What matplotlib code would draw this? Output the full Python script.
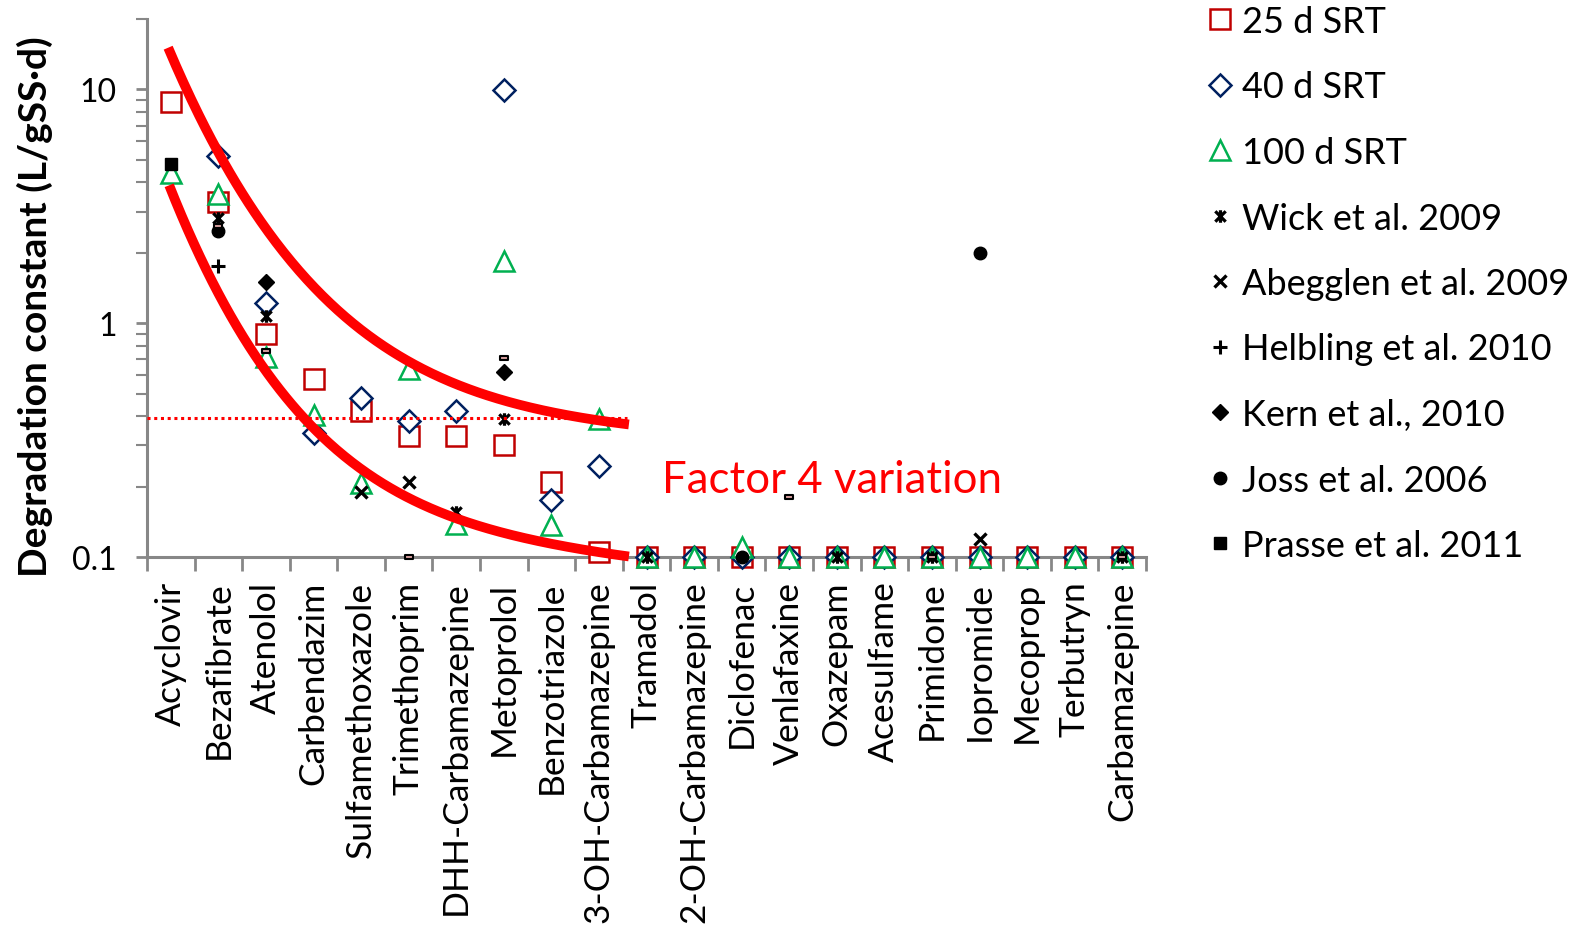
import numpy as np
import matplotlib
matplotlib.use("Agg")
import matplotlib.pyplot as plt
from matplotlib.path import Path

plt.rcParams['font.family'] = ['Lato', 'DejaVu Sans']

nan = np.nan

categories = ["Acyclovir", "Bezafibrate", "Atenolol", "Carbendazim", "Sulfamethoxazole",
              "Trimethoprim", "DHH-Carbamazepine", "Metoprolol", "Benzotriazole",
              "3-OH-Carbamazepine", "Tramadol", "2-OH-Carbamazepine", "Diclofenac",
              "Venlafaxine", "Oxazepam", "Acesulfame", "Primidone", "Iopromide",
              "Mecoprop", "Terbutryn", "Carbamazepine"]

srt25 = [8.8, 3.3, 0.90, 0.58, 0.42, 0.33, 0.33, 0.30, 0.21, 0.105,
         0.1, 0.1, 0.1, 0.1, 0.1, 0.1, 0.1, 0.1, 0.1, 0.1, 0.1]
srt40 = [nan, 5.2, 1.22, 0.34, 0.48, 0.38, 0.42, 9.9, 0.175, 0.245,
         0.1, 0.1, 0.1, 0.1, 0.1, 0.1, 0.1, 0.1, 0.1, 0.1, 0.1]
srt100 = [4.4, 3.56, 0.72, 0.405, 0.207, 0.64, 0.138, 1.84, 0.137, 0.39,
          0.1, 0.1, 0.11, 0.1, 0.1, 0.1, 0.1, 0.1, 0.1, 0.1, 0.1]
wick2009 = [nan, 2.81, 1.07, nan, nan, nan, 0.156, 0.39, nan, nan,
            0.1, nan, nan, nan, 0.1, nan, 0.1, nan, nan, nan, 0.1]
abegglen2009 = [nan, nan, nan, nan, 0.19, 0.21, nan, nan, nan, nan,
                nan, nan, nan, nan, nan, nan, nan, 0.119, nan, nan, nan]
helbling2010 = [nan, 1.75, nan, nan, nan, nan, nan, nan, nan, nan,
                nan, nan, nan, nan, nan, nan, nan, nan, nan, nan, nan]
kern2010 = [nan, nan, 1.50, nan, nan, nan, nan, 0.62, nan, nan,
            nan, nan, nan, nan, nan, nan, nan, nan, nan, nan, nan]
joss2006 = [nan, 2.49, nan, nan, nan, nan, nan, nan, nan, nan,
            nan, nan, 0.1, nan, nan, nan, nan, 2.0, nan, nan, nan]
prasse2011 = [4.8, nan, nan, nan, nan, nan, nan, nan, nan, nan,
              nan, nan, nan, nan, nan, nan, nan, nan, nan, nan, nan]
other_dash = [nan, 2.6, 0.76, nan, nan, 0.1, nan, 0.71, nan, nan,
              nan, nan, nan, 0.18, nan, nan, 0.1, nan, nan, nan, 0.1]

legend_labels = ["25 d SRT", "40 d SRT", "100 d SRT", "Wick et al. 2009",
                 "Abegglen et al. 2009", "Helbling et al. 2010", "Kern et al., 2010",
                 "Joss et al. 2006", "Prasse et al. 2011"]

# hand-drawn envelope curves (anchor points, category position / value)
upper_x = [-0.055, 1.0, 2.02, 3.02, 4.03, 5.05, 6.05, 7.06, 8.06, 9.63]
upper_y = [15.6, 4.88, 2.60, 1.54, 0.90, 0.655, 0.532, 0.473, 0.421, 0.366]
lower_x = [-0.034, 0.877, 2.06, 2.74, 3.06, 4.86, 6.05, 7.06, 8.06, 9.63]
lower_y = [4.12, 1.27, 0.716, 0.393, 0.342, 0.177, 0.145, 0.128, 0.114, 0.1]
median_level = 0.393
annotation = "Factor 4 variation"

W, H = 1579, 928
fig = plt.figure(figsize=(W / 100, H / 100), dpi=100)
ax = fig.add_axes([147 / W, 1 - 558 / H, (1146 - 147) / W, (558 - 20) / H])

x = np.arange(len(categories))

star_path = Path([(-1, -1), (1, 1), (-1, 1), (1, -1), (0, -1.2), (0, 1.2)],
                 [Path.MOVETO, Path.LINETO, Path.MOVETO, Path.LINETO, Path.MOVETO, Path.LINETO])
dash_path = Path([(-1, -0.45), (1, -0.45), (1, 0.45), (-1, 0.45), (-1, -0.45)],
                 [Path.MOVETO, Path.LINETO, Path.LINETO, Path.LINETO, Path.CLOSEPOLY])

styles = [
    (srt25, dict(marker='s', ms=14, mfc='white', mec='#C00000', mew=1.8)),
    (srt40, dict(marker='D', ms=11, mfc='white', mec='#002060', mew=1.8)),
    (srt100, dict(marker='^', ms=14, mfc='white', mec='#00B050', mew=1.8)),
    (wick2009, dict(marker=star_path, ms=9, mfc='black', mec='black', mew=2.3)),
    (abegglen2009, dict(marker='x', ms=9, mfc='black', mec='black', mew=2.4)),
    (helbling2010, dict(marker='+', ms=10, mfc='black', mec='black', mew=2.2)),
    (kern2010, dict(marker='D', ms=8, mfc='black', mec='black', mew=1)),
    (joss2006, dict(marker='o', ms=9, mfc='black', mec='black', mew=1)),
    (prasse2011, dict(marker='s', ms=8, mfc='black', mec='black', mew=1)),
]

handles = []
for (vals, st), lab in zip(styles, legend_labels):
    ln, = ax.plot(x, vals, linestyle='none', clip_on=False, zorder=3, label=lab, **st)
    handles.append(ln)
ax.plot(x, other_dash, linestyle='none', marker=dash_path, ms=6, mfc='#d8a0a0',
        mec='black', mew=1.5, clip_on=False, zorder=3)

# envelope curves (smooth through anchor points, in log space)
for cx, cy in [(upper_x, upper_y), (lower_x, lower_y)]:
    p = np.polyfit(cx, np.log10(cy), 4)
    xs = np.linspace(cx[0], cx[-1], 300)
    ax.plot(xs, 10 ** np.polyval(p, xs), color='#FF0000', lw=7, solid_capstyle='butt',
            zorder=4, clip_on=False)

ax.plot([-0.5, 9.6], [median_level, median_level], color='#FF0000', lw=2.2,
        linestyle=(0, (1, 1.2)), zorder=4)

ax.text(13.9, 0.214, annotation, color='#FF0000', fontsize=31.5, ha='center', va='center')

ax.set_yscale('log')
ax.set_ylim(0.1, 20)
ax.set_xlim(-0.5, len(categories) - 0.5)

ax.set_xticks(x)
ax.set_xticklabels(categories, rotation=90, fontsize=25.5)
ax.set_xticks(np.arange(-0.5, len(categories)), minor=True)
ax.tick_params(axis='x', which='major', length=0, pad=17)
ax.tick_params(axis='x', which='minor', length=10, width=2, color='#878787')

ax.set_yticks([0.1, 1, 10])
ax.set_yticklabels(["0.1", "1", "10"], fontsize=23)
ax.tick_params(axis='y', which='major', length=8, width=2, color='#878787', pad=14)
ax.tick_params(axis='y', which='minor', length=8, width=1.5, color='#878787')
ax.yaxis.set_minor_formatter(matplotlib.ticker.NullFormatter())

for s in ['top', 'right']:
    ax.spines[s].set_visible(False)
for s in ['left', 'bottom']:
    ax.spines[s].set_color('#878787')
    ax.spines[s].set_linewidth(2.2)

fig.text(35 / W, 1 - 307 / H, "Degradation constant (L/gSS·d)", rotation=90,
         ha='center', va='center', fontsize=28, fontweight='bold')

leg = fig.legend(handles, legend_labels, loc='upper left', bbox_to_anchor=(1206 / W, 1 - 6 / H),
                 bbox_transform=fig.transFigure, frameon=False, fontsize=26,
                 handlelength=0.8, handletextpad=0.2, labelspacing=0.9,
                 borderpad=0, borderaxespad=0, markerscale=1.0)

fig.savefig("out.png", dpi=100)
